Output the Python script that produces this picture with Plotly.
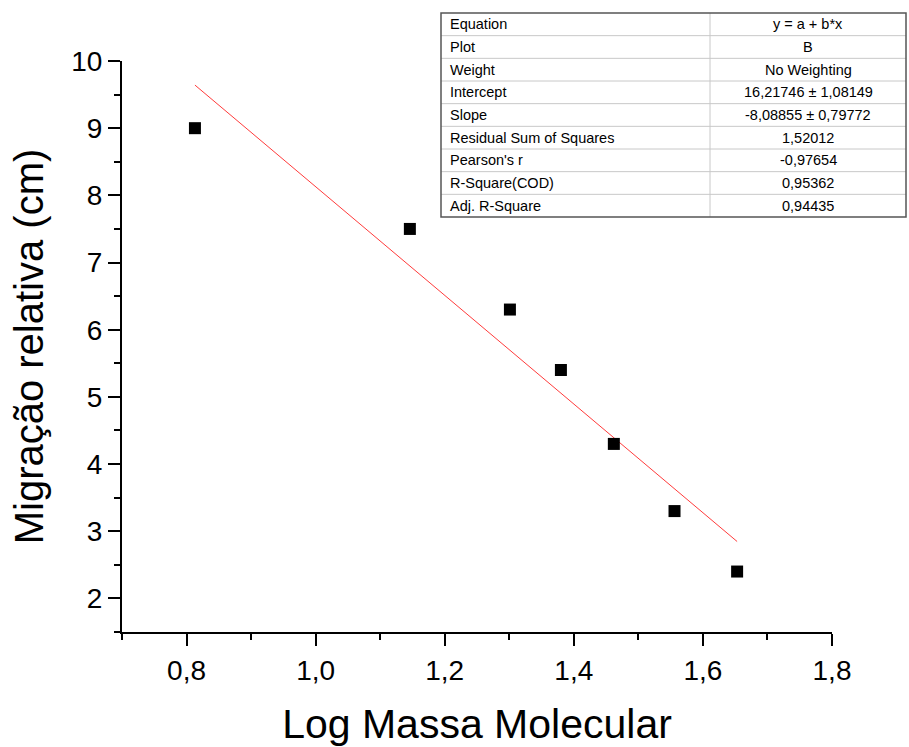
import plotly.graph_objects as go

# Data
log_mass = [0.813, 1.146, 1.301, 1.380, 1.462, 1.556, 1.653]
migration = [9.0, 7.5, 6.3, 5.4, 4.3, 3.3, 2.4]
intercept = 16.21746
slope = -8.08855
fit_x = [0.813, 1.653]
fit_y = [intercept + slope * v for v in fit_x]

table_labels = ["Equation", "Plot", "Weight", "Intercept", "Slope",
                "Residual Sum of Squares", "Pearson's r", "R-Square(COD)", "Adj. R-Square"]
table_values = ["y = a + b*x", "B", "No Weighting", "16,21746 ± 1,08149",
                "-8,08855 ± 0,79772", "1,52012", "-0,97654", "0,95362", "0,94435"]

W, H = 909, 747
L, R, T, B = 122, 832, 61, 632
FONT = "Arial, Liberation Sans, sans-serif"

def px(x):
    return (x - L) / (R - L)

def py(y):
    return (B - y) / (B - T)

fig = go.Figure()
fig.add_trace(go.Scatter(x=fit_x, y=fit_y, mode="lines",
                         line=dict(color="#ff3b3b", width=1), showlegend=False))
fig.add_trace(go.Scatter(x=log_mass, y=migration, mode="markers",
                         marker=dict(symbol="square", size=12, color="black"),
                         showlegend=False))

# Table
tx0, tx1, tcol = 441, 906, 710
ty0, ty1 = 13, 217
nrows = len(table_labels)
rh = (ty1 - ty0) / nrows
shapes = []
for i in range(1, nrows):
    yy = ty0 + i * rh
    shapes.append(dict(type="line", xref="paper", yref="paper", x0=px(tx0), x1=px(tx1),
                       y0=py(yy), y1=py(yy), line=dict(color="#c8c8c8", width=1)))
shapes.append(dict(type="line", xref="paper", yref="paper", x0=px(tcol), x1=px(tcol),
                   y0=py(ty0), y1=py(ty1), line=dict(color="#c8c8c8", width=1)))
shapes.append(dict(type="rect", xref="paper", yref="paper", x0=px(tx0), x1=px(tx1),
                   y0=py(ty0), y1=py(ty1), line=dict(color="#555555", width=1.5),
                   fillcolor="rgba(0,0,0,0)"))
annotations = []
for i, (lab, val) in enumerate(zip(table_labels, table_values)):
    yc = ty0 + (i + 0.5) * rh
    annotations.append(dict(x=px(tx0 + 7), y=py(yc), xref="paper", yref="paper",
                            text=lab, showarrow=False, xanchor="left", yanchor="middle",
                            font=dict(family=FONT, size=14.5, color="black")))
    annotations.append(dict(x=px((tcol + tx1) / 2), y=py(yc), xref="paper", yref="paper",
                            text=val, showarrow=False, xanchor="center", yanchor="middle",
                            font=dict(family=FONT, size=14.5, color="black")))

fig.update_layout(
    width=W, height=H,
    margin=dict(l=L, r=W - R, t=T, b=H - B),
    paper_bgcolor="white", plot_bgcolor="white",
    separators=",.",
    font=dict(family=FONT, color="black"),
    shapes=shapes, annotations=annotations,
    xaxis=dict(range=[0.7, 1.8], tickvals=[0.8, 1.0, 1.2, 1.4, 1.6, 1.8], tickformat=".1f",
               automargin=False,
               showgrid=False, zeroline=False, showline=True, linecolor="black", linewidth=2,
               ticks="outside", ticklen=12, tickwidth=2, tickcolor="black",
               minor=dict(tickvals=[0.7, 0.9, 1.1, 1.3, 1.5, 1.7], ticks="outside",
                          ticklen=6, tickwidth=2, tickcolor="black"),
               tickfont=dict(size=28),
               title=dict(text="Log Massa Molecular", font=dict(size=41), standoff=30)),
    yaxis=dict(range=[1.5, 10], tickvals=[2, 3, 4, 5, 6, 7, 8, 9, 10],
               automargin=False,
               showgrid=False, zeroline=False, showline=True, linecolor="black", linewidth=2,
               ticks="outside", ticklen=12, tickwidth=2, tickcolor="black",
               minor=dict(tickvals=[1.5, 2.5, 3.5, 4.5, 5.5, 6.5, 7.5, 8.5, 9.5], ticks="outside",
                          ticklen=6, tickwidth=2, tickcolor="black"),
               tickfont=dict(size=28),
               title=dict(text="Migração relativa (cm)", font=dict(size=40), standoff=15)),
)

fig.write_html("out.html")
